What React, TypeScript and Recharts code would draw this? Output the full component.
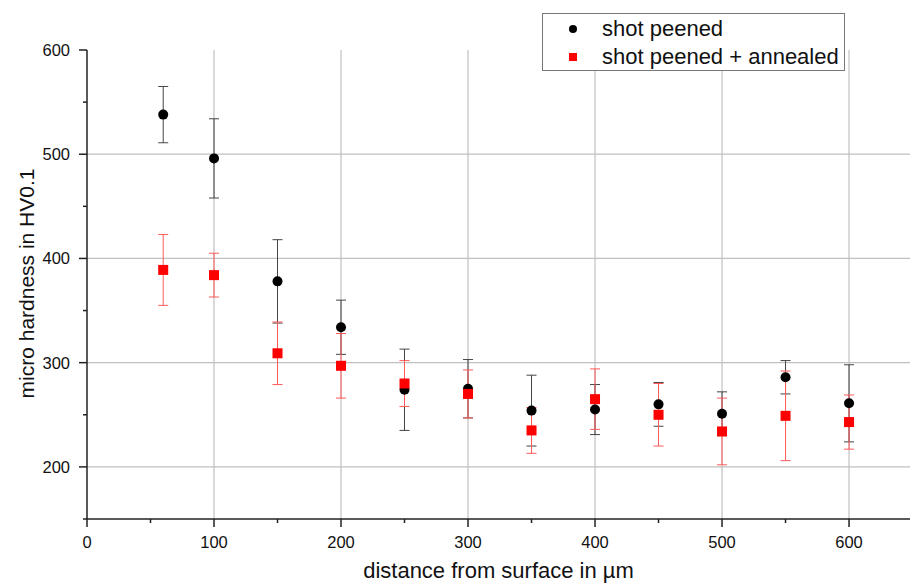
import { ScatterChart, Scatter, XAxis, YAxis, CartesianGrid, ErrorBar } from "recharts";

const depth = [60, 100, 150, 200, 250, 300, 350, 400, 450, 500, 550, 600];
const peenedValues = [538, 496, 378, 334, 274, 275, 254, 255, 260, 251, 286, 261];
const peenedErr = [27, 38, 40, 26, 39, 28, 34, 24, 21, 21, 16, 37];
const annealedValues = [389, 384, 309, 297, 280, 270, 235, 265, 250, 234, 249, 243];
const annealedErr = [34, 21, 30, 31, 22, 23, 22, 29, 30, 32, 43, 26];

const xTicks = [0, 50, 100, 150, 200, 250, 300, 350, 400, 450, 500, 550, 600];
const yTicks = [150, 200, 250, 300, 350, 400, 450, 500, 550, 600];
const xGrid = [100, 200, 300, 400, 500, 600];
const yGrid = [200, 300, 400, 500];

const seriesNames = ["shot peened", "shot peened + annealed"];

const FONT = "'Liberation Sans', Arial, sans-serif";

const peened = depth.map((d, i) => ({ x: d, y: peenedValues[i], err: peenedErr[i] }));
const annealed = depth.map((d, i) => ({ x: d, y: annealedValues[i], err: annealedErr[i] }));

const XTick = ({ x, y, payload }: any) => {
  const major = payload.value % 100 === 0;
  return (
    <g>
      <line x1={x} x2={x} y1={y} y2={y + (major ? 8 : 4)} stroke="#222" strokeWidth={1.5} />
      {major && (
        <text x={x} y={y + 29} textAnchor="middle" fontSize={16.5} fontFamily={FONT} fill="#111">
          {payload.value}
        </text>
      )}
    </g>
  );
};

const YTick = ({ x, y, payload }: any) => {
  const major = payload.value % 100 === 0;
  return (
    <g>
      <line x1={x} x2={x - (major ? 8 : 4)} y1={y} y2={y} stroke="#222" strokeWidth={1.5} />
      {major && (
        <text x={x - 17} y={y + 6} textAnchor="end" fontSize={16.5} fontFamily={FONT} fill="#111">
          {payload.value}
        </text>
      )}
    </g>
  );
};

const Dot = ({ cx, cy }: any) => <circle cx={cx} cy={cy} r={5} fill="#000" />;
const Square = ({ cx, cy }: any) => <rect x={cx - 5} y={cy - 5} width={10} height={10} fill="#ff0000" />;

export default function App() {
  return (
    <div style={{ position: "absolute", left: 0, top: 0, width: 910, height: 585, background: "#fff" }}>
      <ScatterChart width={910} height={585} margin={{ top: 50, right: 0, bottom: 0, left: 0 }}>
        <CartesianGrid stroke="#c0c0c0" strokeWidth={1.2} horizontalValues={yGrid} verticalValues={xGrid} />
        <XAxis
          type="number"
          dataKey="x"
          domain={[0, 648]}
          ticks={xTicks}
          tick={<XTick />}
          tickLine={false}
          tickSize={0}
          tickMargin={0}
          height={66}
          axisLine={{ stroke: "#222", strokeWidth: 1.5 }}
          interval={0}
          label={({ viewBox }: any) => (
            <text
              x={viewBox.x + viewBox.width / 2}
              y={viewBox.y + 59}
              textAnchor="middle"
              fontSize={22}
              fontFamily={FONT}
              fill="#111"
            >
              distance from surface in µm
            </text>
          )}
        />
        <YAxis
          type="number"
          dataKey="y"
          domain={[150, 600]}
          ticks={yTicks}
          tick={<YTick />}
          tickLine={false}
          tickSize={0}
          tickMargin={0}
          width={87}
          axisLine={{ stroke: "#222", strokeWidth: 1.5 }}
          interval={0}
          label={({ viewBox }: any) => {
            const cx = 34;
            const cy = viewBox.y + viewBox.height / 2 - 1;
            return (
              <text
                x={cx}
                y={cy}
                transform={`rotate(-90 ${cx} ${cy})`}
                textAnchor="middle"
                fontSize={21}
                fontFamily={FONT}
                fill="#111"
              >
                micro hardness in HV0.1
              </text>
            );
          }}
        />
        <Scatter name={seriesNames[0]} data={peened} shape={<Dot />} isAnimationActive={false}>
          <ErrorBar dataKey="err" direction="y" width={5} stroke="#444" strokeWidth={1} />
        </Scatter>
        <Scatter name={seriesNames[1]} data={annealed} shape={<Square />} isAnimationActive={false}>
          <ErrorBar dataKey="err" direction="y" width={5} stroke="#ff5a5a" strokeWidth={1} />
        </Scatter>
      </ScatterChart>
      <div
        style={{
          position: "absolute",
          left: 542,
          top: 13,
          width: 303,
          height: 58,
          border: "1px solid #777",
          background: "#fff",
          fontFamily: FONT,
          fontSize: 22,
          color: "#111",
          boxSizing: "border-box",
        }}
      >
        {seriesNames.map((name, i) => (
          <div
            key={name}
            style={{ position: "absolute", left: 0, top: i === 0 ? 2 : 30, height: 26, display: "flex", alignItems: "center", whiteSpace: "nowrap" }}
          >
            <div style={{ width: 59, display: "flex", justifyContent: "center" }}>
              {i === 0 ? (
                <div style={{ width: 8, height: 8, borderRadius: 4, background: "#000" }} />
              ) : (
                <div style={{ width: 8, height: 8, background: "#ff0000" }} />
              )}
            </div>
            <span>{name}</span>
          </div>
        ))}
      </div>
    </div>
  );
}
